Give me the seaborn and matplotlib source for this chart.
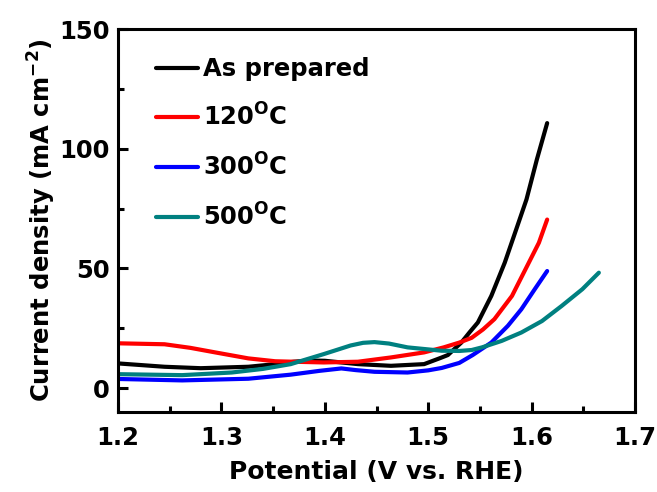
import numpy as np
import pandas as pd
import matplotlib
matplotlib.use("Agg")
import matplotlib.pyplot as plt
from matplotlib.ticker import MultipleLocator
import seaborn as sns

# Polarization curves: potential (V vs. RHE) and current density (mA cm^-2)
v_as_prepared = [1.200, 1.245, 1.280, 1.326, 1.350, 1.370, 1.385, 1.400, 1.432, 1.464,
                 1.496, 1.512, 1.519, 1.532, 1.540, 1.548, 1.561, 1.574, 1.585, 1.595,
                 1.605, 1.615]
j_as_prepared = [10.3, 8.9, 8.3, 8.9, 9.9, 11.0, 11.5, 11.4, 10.0, 9.3,
                 10.0, 12.6, 13.8, 19.0, 23.3, 27.4, 38.5, 52.4, 66.2, 78.8,
                 95.4, 110.7]

v_120 = [1.200, 1.245, 1.270, 1.294, 1.326, 1.352, 1.370, 1.399, 1.432, 1.464,
         1.496, 1.515, 1.530, 1.542, 1.553, 1.564, 1.581, 1.594, 1.607, 1.615]
j_120 = [18.7, 18.3, 16.8, 14.9, 12.4, 11.2, 11.0, 10.7, 11.0, 12.8,
         14.9, 17.0, 19.0, 21.0, 24.5, 28.8, 38.5, 49.6, 60.7, 70.4]

v_300 = [1.200, 1.262, 1.326, 1.367, 1.395, 1.416, 1.430, 1.448, 1.480, 1.500,
         1.513, 1.530, 1.543, 1.561, 1.577, 1.590, 1.603, 1.615]
j_300 = [3.8, 3.2, 3.9, 5.6, 7.2, 8.2, 7.5, 6.8, 6.5, 7.4,
         8.4, 10.5, 13.8, 19.0, 26.0, 32.9, 41.3, 48.9]

v_500 = [1.200, 1.262, 1.310, 1.340, 1.367, 1.399, 1.425, 1.437, 1.448, 1.462,
         1.480, 1.513, 1.530, 1.542, 1.552, 1.571, 1.590, 1.610, 1.629, 1.649,
         1.665]
j_500 = [5.8, 5.4, 6.5, 8.0, 10.0, 14.2, 17.8, 18.9, 19.2, 18.6,
         17.0, 15.6, 15.5, 15.9, 17.0, 19.7, 23.2, 28.0, 34.3, 41.3,
         48.2]

labels = ["As prepared", r"120$^{\mathbf{O}}$C", r"300$^{\mathbf{O}}$C", r"500$^{\mathbf{O}}$C"]
colors = ["#000000", "#FF0000", "#0000FF", "#008080"]

series = [(v_as_prepared, j_as_prepared), (v_120, j_120), (v_300, j_300), (v_500, j_500)]
df = pd.concat(
    [pd.DataFrame({"V": v, "J": j, "sample": lab}) for lab, (v, j) in zip(labels, series)],
    ignore_index=True,
)

sns.set_style("ticks")
plt.rcParams["font.family"] = ["DejaVu Sans"]
plt.rcParams["font.weight"] = "bold"
plt.rcParams["text.color"] = "black"
plt.rcParams["axes.labelcolor"] = "black"
plt.rcParams["xtick.color"] = "black"
plt.rcParams["ytick.color"] = "black"
plt.rcParams["mathtext.fontset"] = "custom"
plt.rcParams["mathtext.rm"] = "DejaVu Sans:bold"
plt.rcParams["mathtext.bf"] = "DejaVu Sans:bold"
plt.rcParams["mathtext.it"] = "DejaVu Sans:bold"

fig = plt.figure(figsize=(6.57, 4.92), dpi=100)
ax = fig.add_axes([0.1796, 0.1626, 0.787, 0.7784])

sns.lineplot(data=df, x="V", y="J", hue="sample", hue_order=labels,
             palette=dict(zip(labels, colors)), estimator=None, sort=False,
             linewidth=3.0, ax=ax)

ax.set_xlim(1.2, 1.7)
ax.set_ylim(-10, 150)
ax.xaxis.set_minor_locator(MultipleLocator(0.05))
ax.yaxis.set_major_locator(MultipleLocator(50))
ax.yaxis.set_minor_locator(MultipleLocator(25))
ax.set_xticks([1.2, 1.3, 1.4, 1.5, 1.6, 1.7])
ax.set_xticklabels(["1.2", "1.3", "1.4", "1.5", "1.6", "1.7"])

for s in ax.spines.values():
    s.set_linewidth(2.2)
    s.set_color("black")
    s.set_visible(True)

ax.tick_params(axis="both", which="major", direction="in", length=7, width=2.2,
               labelsize=17.5, colors="black")
ax.tick_params(axis="x", which="major", pad=10)
ax.tick_params(axis="y", which="major", pad=6)
ax.tick_params(axis="both", which="minor", direction="in", length=4, width=2.2)
ax.tick_params(top=False, right=False, which="both")
for t in ax.get_xticklabels() + ax.get_yticklabels():
    t.set_fontweight("bold")

ax.set_xlabel("Potential (V vs. RHE)", fontsize=18, fontweight="bold",
              labelpad=7, color="black")
ax.set_ylabel(r"Current density (mA cm$^{\mathbf{-2}}$)", fontsize=17.5,
              fontweight="bold", labelpad=1, color="black")

leg = ax.legend(loc="upper left", bbox_to_anchor=(0.045, 0.965), frameon=False,
                fontsize=17.5, handlelength=1.75, handletextpad=0.2, labelspacing=0.93,
                borderaxespad=0.2)
for t in leg.get_texts():
    t.set_fontweight("bold")
    t.set_color("black")
for h in leg.get_lines():
    h.set_linewidth(3.0)

fig.savefig("out.png", dpi=100)
